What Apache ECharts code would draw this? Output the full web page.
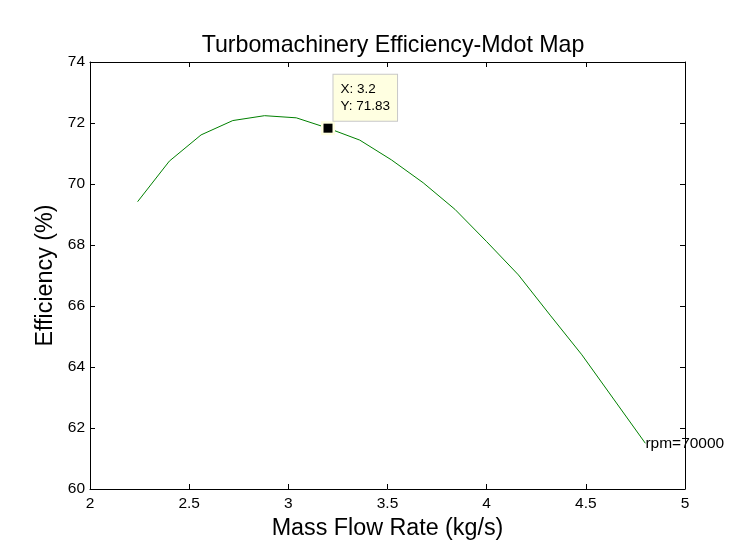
<!DOCTYPE html>
<html>
<head>
<meta charset="utf-8">
<script src="https://cdn.jsdelivr.net/npm/echarts@6/dist/echarts.min.js"></script>
<style>html,body{margin:0;padding:0;background:#fff;}#c{width:736px;height:557px;}</style>
</head>
<body>
<div id="c"></div>
<script>
var massFlow = [2.24, 2.40, 2.56, 2.72, 2.88, 3.04, 3.20, 3.36, 3.52, 3.68, 3.84, 4.00, 4.16, 4.32, 4.48, 4.64, 4.80];
var efficiency = [69.42, 70.75, 71.61, 72.08, 72.24, 72.17, 71.83, 71.44, 70.79, 70.04, 69.17, 68.11, 67.02, 65.70, 64.40, 62.95, 61.50];
var tipPoint = [3.2, 71.83];
var curveLabel = 'rpm=70000';
var titleText = 'Turbomachinery Efficiency-Mdot Map';
var xName = 'Mass Flow Rate (kg/s)';
var yName = 'Efficiency (%)';

var FONT = '"Liberation Sans", Arial, sans-serif';
var lineData = massFlow.map(function (x, i) { return [x, efficiency[i]]; });
var lastPoint = lineData[lineData.length - 1];

var chart = echarts.init(document.getElementById('c'), null, {renderer: 'canvas'});
var axisCommon = {
  axisLine: {show: true, lineStyle: {color: '#000', width: 1}},
  axisTick: {show: true, inside: true, length: 5, lineStyle: {color: '#000'}},
  splitLine: {show: false}
};
chart.setOption({
  backgroundColor: '#fff',
  animation: false,
  title: {
    text: titleText,
    left: 388, top: 29, textAlign: 'center',
    textStyle: {fontFamily: FONT, fontSize: 23.2, fontWeight: 'normal', color: '#000'}
  },
  grid: {left: 90, right: 51, top: 62, bottom: 68, containLabel: false},
  xAxis: [
    Object.assign({
      type: 'value', min: 2, max: 5, interval: 0.5, position: 'bottom',
      name: xName, nameLocation: 'middle', nameGap: 26,
      nameTextStyle: {fontFamily: FONT, fontSize: 23.3, color: '#000'},
      axisLabel: {margin: 7, fontFamily: FONT, fontSize: 15.5, color: '#000'}
    }, axisCommon),
    Object.assign({
      type: 'value', min: 2, max: 5, interval: 0.5, position: 'top',
      axisLabel: {show: false}
    }, axisCommon)
  ],
  yAxis: [
    Object.assign({
      type: 'value', min: 60, max: 74, interval: 2, position: 'left',
      name: yName, nameLocation: 'middle', nameGap: 29,
      nameTextStyle: {fontFamily: FONT, fontSize: 23.3, color: '#000'},
      axisLabel: {margin: 5, fontFamily: FONT, fontSize: 15.5, color: '#000'}
    }, axisCommon),
    Object.assign({
      type: 'value', min: 60, max: 74, interval: 2, position: 'right',
      axisLabel: {show: false}
    }, axisCommon)
  ],
  series: [
    {
      type: 'line', data: lineData, showSymbol: false, symbol: 'none',
      lineStyle: {color: '#008000', width: 1, opacity: 1}, z: 2
    },
    {
      type: 'scatter', data: [lastPoint], symbolSize: 0.1,
      itemStyle: {color: 'transparent', opacity: 1},
      label: {show: true, position: 'right', distance: 0, formatter: curveLabel,
        fontFamily: FONT, fontSize: 15.5, color: '#000'},
      z: 3
    },
    {
      type: 'scatter', data: [tipPoint], symbol: 'rect', symbolSize: 14,
      itemStyle: {color: '#ffffe1', opacity: 1}, z: 4, silent: true
    },
    {
      type: 'scatter', data: [tipPoint], symbol: 'rect', symbolSize: 9,
      itemStyle: {color: '#000', opacity: 1}, z: 5,
      label: {
        show: true, position: [10, -49],
        formatter: 'X: ' + tipPoint[0] + '\nY: ' + tipPoint[1],
        fontFamily: FONT, fontSize: 13.5, lineHeight: 17, color: '#000',
        backgroundColor: '#ffffe1', borderColor: '#c8c8c8', borderWidth: 1,
        padding: [6, 7, 6, 7], align: 'left', verticalAlign: 'top'
      }
    }
  ]
});
</script>
</body>
</html>
